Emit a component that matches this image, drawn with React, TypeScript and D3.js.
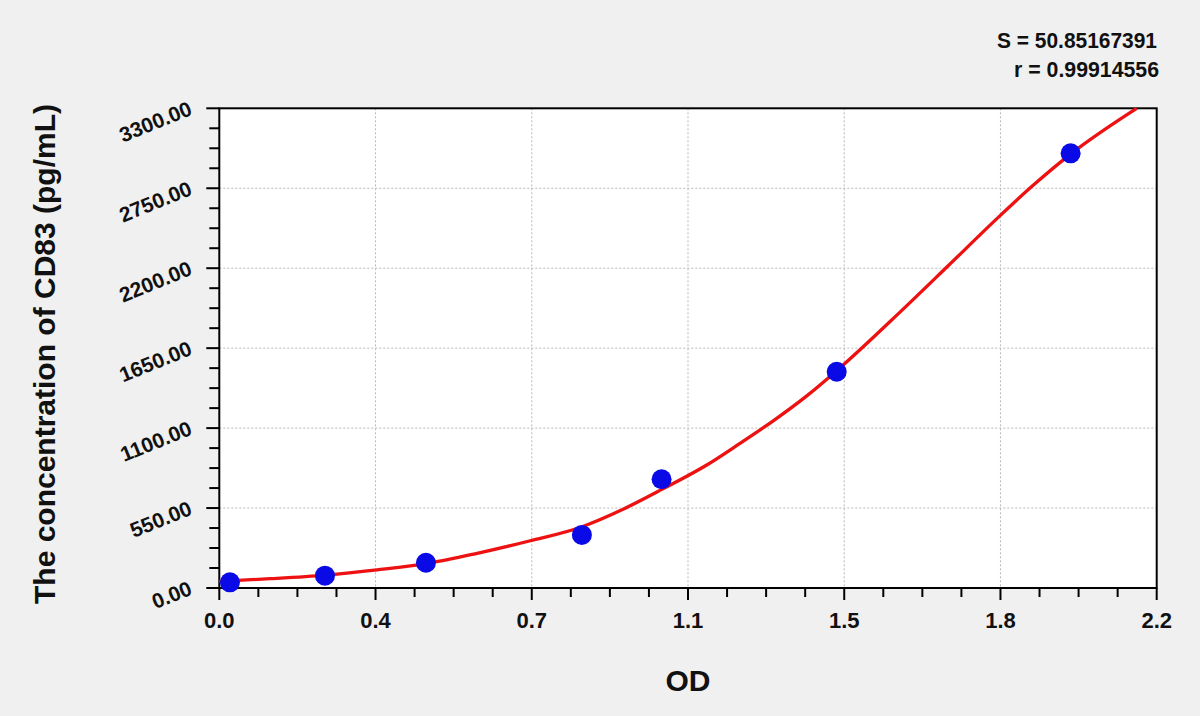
import React from "react";
import * as d3 from "d3";

// ---- data ----
const pointOD = [0.025, 0.248, 0.485, 0.851, 1.038, 1.449, 1.998];
const pointConc = [39, 85, 174, 365, 748, 1488, 2990];

const curveOD = [0, 0.12, 0.25, 0.37, 0.49, 0.6, 0.73, 0.85, 0.95, 1.04, 1.144, 1.222, 1.3, 1.378, 1.449, 1.6, 1.71, 1.83, 1.91, 2.0, 2.153];
const curveConc = [46, 64, 89, 125, 170, 235, 325, 420, 545, 680, 846, 995, 1150, 1320, 1495, 1905, 2215, 2555, 2770, 2990, 3300];

const xTickLabels = ["0.0", "0.4", "0.7", "1.1", "1.5", "1.8", "2.2"];
const yTickLabels = ["0.00", "550.00", "1100.00", "1650.00", "2200.00", "2750.00", "3300.00"];
const xMax = 2.2;
const yMax = 3300;
const statLines = ["S = 50.85167391", "r = 0.99914556"];
const xTitle = "OD";
const yTitle = "The concentration of CD83 (pg/mL)";

const W = 1200;
const H = 716;
const L = 219.3, R = 1156.7, T = 108.3, B = 588;
const FONT = "'Liberation Sans', Arial, Helvetica, sans-serif";

export default function App() {
  const x = d3.scaleLinear().domain([0, xMax]).range([L, R]);
  const y = d3.scaleLinear().domain([0, yMax]).range([B, T]);

  const nMajor = xTickLabels.length - 1;
  const xMajor = d3.range(0, nMajor + 1).map((i) => (i * xMax) / nMajor);
  const xMinor = d3.range(0, nMajor * 4 + 1).map((i) => (i * xMax) / (nMajor * 4)).filter((_, i) => i % 4 !== 0);
  const yMajor = d3.range(0, yTickLabels.length).map((i) => (i * yMax) / (yTickLabels.length - 1));
  const yMinor = d3.range(0, (yTickLabels.length - 1) * 4 + 1)
    .map((i) => (i * yMax) / ((yTickLabels.length - 1) * 4))
    .filter((_, i) => i % 4 !== 0);

  const curveData = curveOD.map((v, i) => [v, curveConc[i]] as [number, number]);
  const line = d3.line<[number, number]>()
    .x((d) => x(d[0]))
    .y((d) => y(d[1]))
    .curve(d3.curveMonotoneX);

  return (
    <svg width={W} height={H} style={{ position: "absolute", left: 0, top: 0, display: "block" }} fontFamily={FONT}>
      <rect x={0} y={0} width={W} height={H} fill="#f0f0f0" />
      <rect x={L} y={T} width={R - L} height={B - T} fill="#ffffff" />

      {/* grid */}
      {xMajor.slice(1, -1).map((v, i) => (
        <line key={"gx" + i} x1={x(v)} x2={x(v)} y1={T} y2={B} stroke="#b8b8b8" strokeWidth={1} strokeDasharray="2,2" />
      ))}
      {yMajor.slice(1, -1).map((v, i) => (
        <line key={"gy" + i} x1={L} x2={R} y1={y(v)} y2={y(v)} stroke="#b8b8b8" strokeWidth={1} strokeDasharray="2,2" />
      ))}

      {/* frame */}
      <rect x={L} y={T} width={R - L} height={B - T} fill="none" stroke="#000" strokeWidth={2} />

      {/* x ticks */}
      {xMajor.map((v, i) => (
        <line key={"xt" + i} x1={x(v)} x2={x(v)} y1={B} y2={B + 12} stroke="#000" strokeWidth={2} />
      ))}
      {xMinor.map((v, i) => (
        <line key={"xm" + i} x1={x(v)} x2={x(v)} y1={B} y2={B + 9} stroke="#000" strokeWidth={2} />
      ))}
      {xMajor.map((v, i) => (
        <text key={"xl" + i} x={x(v)} y={628} textAnchor="middle" fontSize={22} fontWeight="bold" fill="#111">
          {xTickLabels[i]}
        </text>
      ))}

      {/* y ticks */}
      {yMajor.map((v, i) => (
        <line key={"yt" + i} x1={L - 13} x2={L} y1={y(v)} y2={y(v)} stroke="#000" strokeWidth={2} />
      ))}
      {yMinor.map((v, i) => (
        <line key={"ym" + i} x1={L - 10} x2={L} y1={y(v)} y2={y(v)} stroke="#000" strokeWidth={2} />
      ))}
      {yMajor.map((v, i) => (
        <text
          key={"yl" + i}
          transform={`translate(${L - 26},${y(v) + 6}) rotate(-22)`}
          textAnchor="end"
          fontSize={21}
          fontWeight="bold"
          fill="#111"
        >
          {yTickLabels[i]}
        </text>
      ))}

      {/* fitted curve */}
      <path d={line(curveData) || ""} fill="none" stroke="#ee1111" strokeWidth={3.3} />

      {/* points */}
      {pointOD.map((v, i) => (
        <circle key={"p" + i} cx={x(v)} cy={y(pointConc[i])} r={10} fill="#0a0ae6" />
      ))}

      {/* stats */}
      <text x={997} y={48} fontSize={22} fontWeight="bold" fill="#111" textLength={160} lengthAdjust="spacingAndGlyphs">
        {statLines[0]}
      </text>
      <text x={1014} y={77} fontSize={22} fontWeight="bold" fill="#111" textLength={145} lengthAdjust="spacingAndGlyphs">
        {statLines[1]}
      </text>

      {/* titles */}
      <text x={688} y={691} textAnchor="middle" fontSize={30} fontWeight="bold" fill="#111">
        {xTitle}
      </text>
      <text transform={`translate(55,354) rotate(-90)`} textAnchor="middle" fontSize={30} fontWeight="bold" fill="#111">
        {yTitle}
      </text>
    </svg>
  );
}
